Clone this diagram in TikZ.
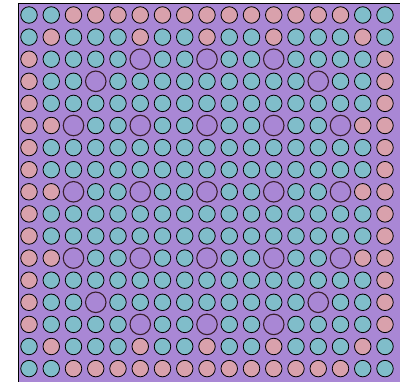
\documentclass[tikz,border=0pt]{standalone}
\definecolor{bgpurple}{HTML}{A987D5}
\definecolor{pinblue}{HTML}{80BDCA}
\definecolor{pinpink}{HTML}{D9A1AC}
\definecolor{guideline}{HTML}{3A1F2E}
\begin{document}
\begin{tikzpicture}[x=1pt,y=-1pt,
  pinbase/.style={circle,inner sep=0pt,minimum size=16.5pt,draw=black,line width=0.8pt},
  pinB/.style={pinbase,fill=pinblue},
  pinP/.style={pinbase,fill=pinpink},
  pinG/.style={circle,inner sep=0pt,minimum size=20.5pt,draw=guideline,line width=1.1pt}]
\useasboundingbox (0,0) rectangle (400,382);
\fill[bgpurple] (18,3) rectangle (400,382);
\draw[black,line width=0.9pt] (18,382) -- (18,3) -- (400,3);
\foreach \row [count=\i from 0] in {
 {B,B,P,P,P,P,P,P,P,P,P,P,P,P,P,B,B},
 {B,P,B,B,B,P,B,B,P,B,B,P,B,B,B,P,B},
 {P,B,B,B,B,G,B,B,G,B,B,G,B,B,B,B,P},
 {P,B,B,G,B,B,B,B,B,B,B,B,B,G,B,B,P},
 {P,B,B,B,B,B,B,B,B,B,B,B,B,B,B,B,P},
 {P,P,G,B,B,G,B,B,G,B,B,G,B,B,G,P,P},
 {P,B,B,B,B,B,B,B,B,B,B,B,B,B,B,B,P},
 {P,B,B,B,B,B,B,B,B,B,B,B,B,B,B,B,P},
 {P,P,G,B,B,G,B,B,G,B,B,G,B,B,G,P,P},
 {P,B,B,B,B,B,B,B,B,B,B,B,B,B,B,B,P},
 {P,B,B,B,B,B,B,B,B,B,B,B,B,B,B,B,P},
 {P,P,G,B,B,G,B,B,G,B,B,G,B,B,G,P,P},
 {P,B,B,B,B,B,B,B,B,B,B,B,B,B,B,B,P},
 {P,B,B,G,B,B,B,B,B,B,B,B,B,G,B,B,P},
 {P,B,B,B,B,G,B,B,G,B,B,G,B,B,B,B,P},
 {B,P,B,B,B,P,B,B,P,B,B,P,B,B,B,P,B},
 {B,B,P,P,P,P,P,P,P,P,P,P,P,P,P,B,B}} {
  \foreach \c [count=\j from 0] in \row {
    \node[pin\c] (p-\i-\j) at ({29+22.25*\j},{15+22.1*\i}) {};
  }
}
\end{tikzpicture}
\end{document}
